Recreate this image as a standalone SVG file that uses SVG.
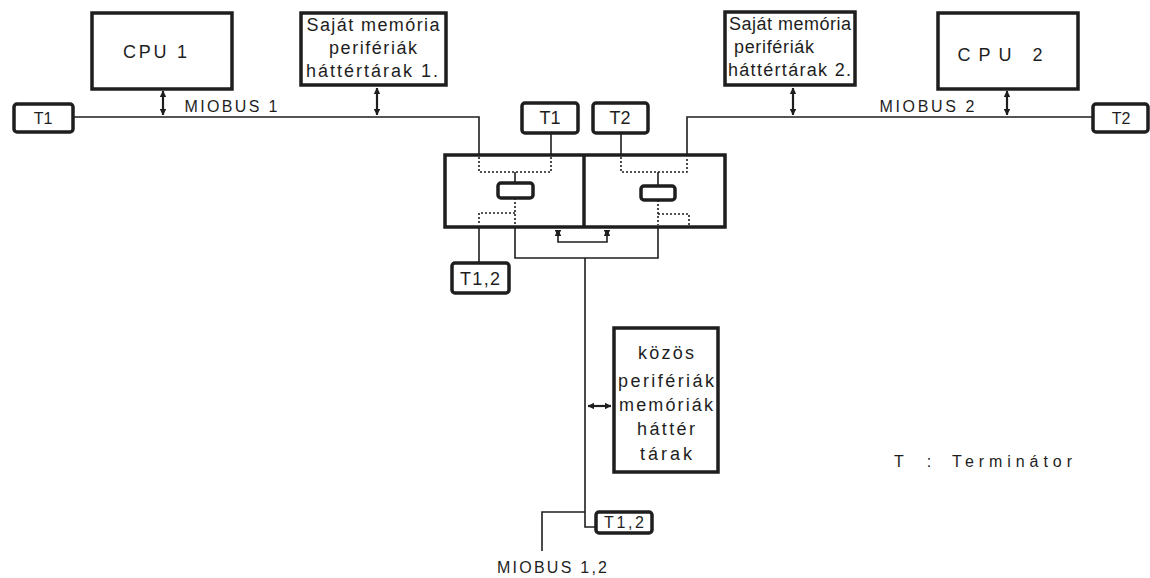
<svg xmlns="http://www.w3.org/2000/svg" width="1150" height="578" viewBox="0 0 1150 578">
<defs>
<style>
.box{fill:#fff;stroke:#1e1e1e;stroke-width:3.5}
.tb{fill:#fff;stroke:#1e1e1e;stroke-width:3.5}
.ln{fill:none;stroke:#1e1e1e;stroke-width:1.6}
.dt{fill:none;stroke:#1e1e1e;stroke-width:1.6;stroke-dasharray:2 2}
.ar{fill:none;stroke:#1e1e1e;stroke-width:2.2;marker-start:url(#ah);marker-end:url(#ah)}
text{font-family:"Liberation Sans",Arial,sans-serif;fill:#1e1e1e;text-anchor:middle}
.st{text-anchor:start}
.t16{font-size:16px}
.t17{font-size:17px}
.t18{font-size:18px}
</style>
<marker id="ah" viewBox="0 0 8 8" refX="7.5" refY="4" markerWidth="3" markerHeight="3" orient="auto-start-reverse" markerUnits="strokeWidth">
<path d="M0,0 L8,4 L0,8 z" fill="#1e1e1e"/>
</marker>
</defs>
<rect width="1150" height="578" fill="#fff"/>

<g id="connectors">
<polyline class="ln" points="73,117 479,117 479,155"/>
<line class="ar" x1="163" y1="91" x2="163" y2="115"/>
<line class="ar" x1="377" y1="88" x2="377" y2="115"/>
<polyline class="ln" points="1093,117 687,117 687,155"/>
<line class="ar" x1="793" y1="88" x2="793" y2="115"/>
<line class="ar" x1="1007" y1="91" x2="1007" y2="115"/>
<line class="ln" x1="551" y1="133" x2="551" y2="155"/>
<line class="ln" x1="621" y1="133" x2="621" y2="155"/>
<line class="ln" x1="479" y1="227" x2="479" y2="263"/>
<polyline class="ln" points="515,227 515,258 658,258 658,227"/>
<polyline class="ln" points="558,230 558,242 607,242 607,230"/>
<line class="ar" x1="558" y1="236" x2="558" y2="230"/>
<line class="ar" x1="607" y1="236" x2="607" y2="230"/>
<polyline class="ln" points="585,258 585,527 596,527"/>
<polyline class="ln" points="585,512 542,512 542,551"/>
<line class="ar" x1="588" y1="406" x2="611" y2="406"/>
</g>

<g id="cpu1">
<rect class="box" x="92" y="13" width="140" height="76"/>
<text class="t18" x="155" y="58" textLength="64" lengthAdjust="spacing">CPU 1</text>
</g>

<g id="sajat1">
<rect class="box" x="301" y="13" width="145" height="72"/>
<text class="t18" x="373" y="31" textLength="133" lengthAdjust="spacing">Saját memória</text>
<text class="t18" x="373" y="54" textLength="88" lengthAdjust="spacing">perifériák</text>
<text class="t18" x="372" y="77" textLength="132" lengthAdjust="spacing">háttértárak 1.</text>
</g>

<g id="sajat2">
<rect class="box" x="725" y="12" width="130" height="73"/>
<text class="t18 st" x="729" y="30" textLength="122" lengthAdjust="spacing">Saját memória</text>
<text class="t18 st" x="734" y="53" textLength="80" lengthAdjust="spacing">perifériák</text>
<text class="t18 st" x="728" y="76" textLength="123" lengthAdjust="spacing">háttértárak 2.</text>
</g>

<g id="cpu2">
<rect class="box" x="938" y="13" width="140" height="76"/>
<text class="t18" x="1000" y="61" textLength="85" lengthAdjust="spacing">CPU 2</text>
</g>

<g id="t1-left">
<rect class="tb" x="14" y="104" width="59" height="28" rx="3"/>
<text class="t16" x="43" y="124">T1</text>
</g>

<g id="t2-right">
<rect class="tb" x="1093" y="104" width="55" height="28" rx="3"/>
<text class="t16" x="1121" y="124">T2</text>
</g>

<g id="t1-center">
<rect class="tb" x="522" y="103" width="56" height="30" rx="3"/>
<text class="t18" x="550" y="124">T1</text>
</g>

<g id="t2-center">
<rect class="tb" x="593" y="103" width="55" height="30" rx="3"/>
<text class="t18" x="620" y="124">T2</text>
</g>

<g id="labels">
<text class="t16" x="231" y="112" textLength="93" lengthAdjust="spacing">MIOBUS 1</text>
<text class="t16" x="927" y="112" textLength="95" lengthAdjust="spacing">MIOBUS 2</text>
<text class="t16" x="552" y="573" textLength="110" lengthAdjust="spacing">MIOBUS 1,2</text>
<text class="t16" x="899" y="467">T</text>
<text class="t16" x="929" y="467">:</text>
<text class="t16" x="1012" y="467" textLength="120" lengthAdjust="spacing">Terminátor</text>
</g>

<g id="central">
<rect class="box" x="445" y="155" width="280" height="72"/>
<line x1="584" y1="155" x2="584" y2="227" stroke="#1e1e1e" stroke-width="3.5"/>
<polyline class="dt" points="479,157 479,172 551,172 551,157"/>
<line class="ln" x1="515" y1="172" x2="515" y2="183"/>
<rect class="tb" x="498" y="183" width="35" height="15" rx="3"/>
<line class="dt" x1="515" y1="198" x2="515" y2="225"/>
<polyline class="dt" points="515,213 479,213 479,225"/>
<polyline class="dt" points="621,157 621,172 687,172 687,157"/>
<line class="ln" x1="658" y1="172" x2="658" y2="186"/>
<rect class="tb" x="641" y="186" width="34" height="14" rx="3"/>
<line class="dt" x1="658" y1="200" x2="658" y2="225"/>
<polyline class="dt" points="658,214 689,214 689,225"/>
</g>

<g id="t12-upper">
<rect class="tb" x="452" y="263" width="57" height="30" rx="3"/>
<text class="t18" x="480" y="285" textLength="40" lengthAdjust="spacing">T1,2</text>
</g>

<g id="kozos">
<rect class="box" x="614" y="328" width="104" height="144"/>
<text class="t18" x="666" y="359" textLength="56" lengthAdjust="spacing">közös</text>
<text class="t18" x="666" y="387" textLength="96" lengthAdjust="spacing">perifériák</text>
<text class="t18" x="666" y="411" textLength="94" lengthAdjust="spacing">memóriák</text>
<text class="t18" x="666" y="435" textLength="58" lengthAdjust="spacing">háttér</text>
<text class="t18" x="666" y="460" textLength="52" lengthAdjust="spacing">tárak</text>
</g>

<g id="t12-lower">
<rect class="tb" x="596" y="512" width="56" height="21" rx="3"/>
<text class="t16" x="624" y="528" textLength="40" lengthAdjust="spacing">T1,2</text>
</g>
</svg>
